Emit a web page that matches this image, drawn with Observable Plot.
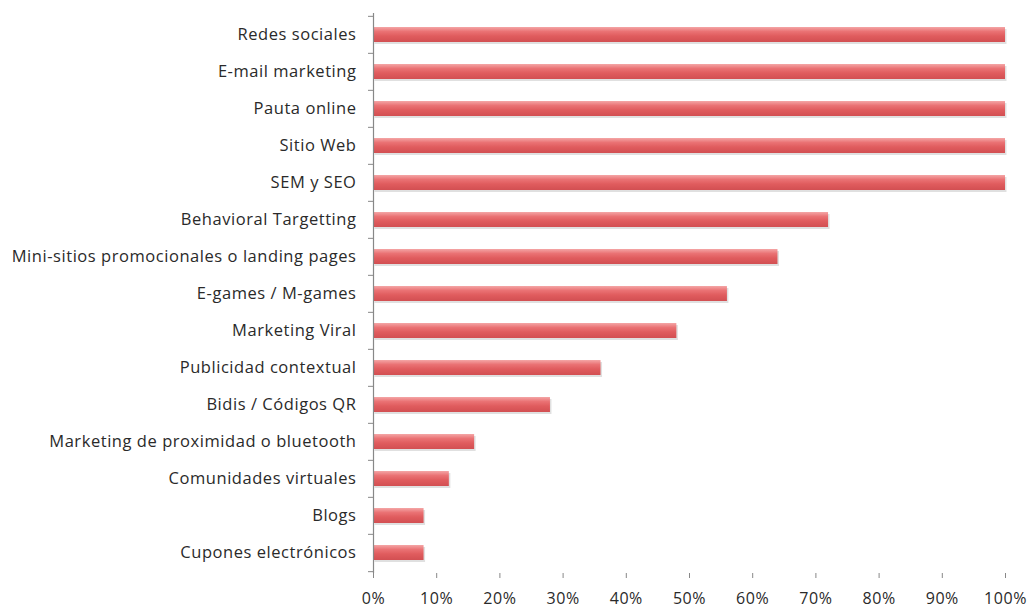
<!DOCTYPE html>
<html>
<head>
<meta charset="utf-8">
<script src="https://cdn.jsdelivr.net/npm/d3@7"></script>
<script src="https://cdn.jsdelivr.net/npm/@observablehq/plot@0.6"></script>
<style>
  html, body { margin: 0; padding: 0; background: #fff; }
  svg { display: block; }
</style>
</head>
<body>
<div id="chart"></div>
<script>
const categories = [
  "Redes sociales",
  "E-mail marketing",
  "Pauta online",
  "Sitio Web",
  "SEM y SEO",
  "Behavioral Targetting",
  "Mini-sitios promocionales o landing pages",
  "E-games / M-games",
  "Marketing Viral",
  "Publicidad contextual",
  "Bidis / Códigos QR",
  "Marketing de proximidad o bluetooth",
  "Comunidades virtuales",
  "Blogs",
  "Cupones electrónicos"
];
const values = [100, 100, 100, 100, 100, 72, 64, 56, 48, 36, 28, 16, 12, 8, 8];
const xTicks = [0, 10, 20, 30, 40, 50, 60, 70, 80, 90, 100];

const data = categories.map((c, i) => ({category: c, value: values[i]}));

const W = 1031, H = 607, mT = 13, mB = 34, mL = 373, mR = 26;
const step = (H - mT - mB) / categories.length;
const tickLen = 5 * 100 / (W - mL - mR);
const font = "'Open Sans', sans-serif";

const chart = Plot.plot({
  width: W,
  height: H,
  marginTop: mT,
  marginBottom: mB,
  marginLeft: mL,
  marginRight: mR,
  style: {fontFamily: font, fontSize: "16.5px", color: "#2a2a2a", background: "#fff", overflow: "visible"},
  x: {domain: [0, 100], label: null},
  y: {domain: categories, paddingInner: 0.6, paddingOuter: 0.3, label: null},
  marks: [
    Plot.barX(data, {y: "category", x: "value", fill: "#bbb", fillOpacity: 0.45, dy: 2, dx: 1.5}),
    Plot.barX(data, {y: "category", x: "value", fill: "url(#barGrad)"}),
    Plot.axisY({tickSize: 0, tickPadding: 17, fontSize: 16.5, fill: "#2a2a2a", fontFamily: font, label: null}),
    Plot.axisX({ticks: xTicks, tickFormat: d => d + "%", tickSize: 5, tickPadding: 14, fontSize: 16, stroke: "#888", fill: "#2a2a2a", fontFamily: font, label: null}),
    Plot.ruleX([0], {stroke: "#888", strokeWidth: 1.2}),
    Plot.ruleY([0], {stroke: "#888", strokeWidth: 1.2}),
    Plot.ruleY(categories, {y: d => d, x1: -tickLen, x2: 0, dy: -step / 2, stroke: "#888"}),
    Plot.ruleY([categories[categories.length - 1]], {y: d => d, x1: -tickLen, x2: 0, dy: step / 2, stroke: "#888"})
  ]
});

const svg = d3.select(chart);
svg.selectAll("text").style("letter-spacing", "0.55px");
const defs = svg.insert("defs", ":first-child");
const grad = defs.append("linearGradient")
  .attr("id", "barGrad").attr("x1", 0).attr("y1", 0).attr("x2", 0).attr("y2", 1);
[["0%", "#f4a6a6"], ["30%", "#ea7274"], ["60%", "#e05c5e"], ["100%", "#d24f52"]]
  .forEach(([o, c]) => grad.append("stop").attr("offset", o).attr("stop-color", c));

document.getElementById("chart").appendChild(chart);
</script>
</body>
</html>
